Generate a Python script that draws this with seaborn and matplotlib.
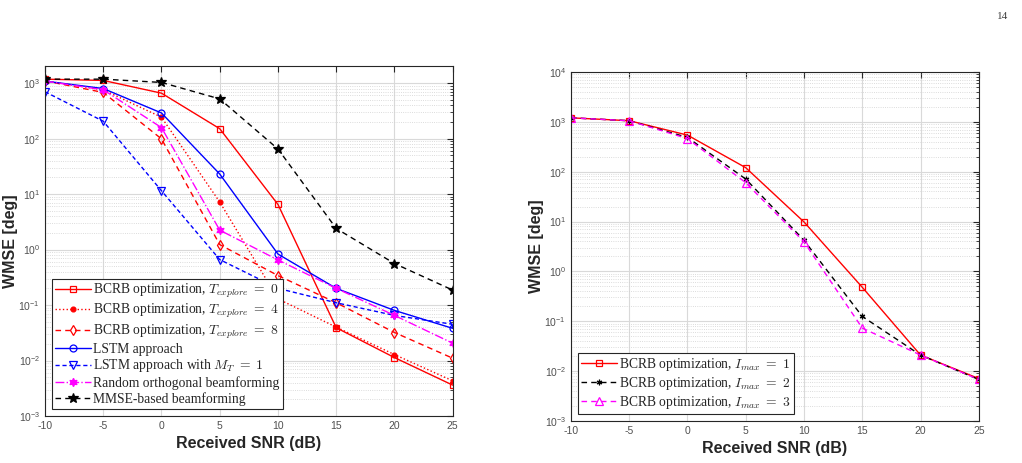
import seaborn as sns
import matplotlib.pyplot as plt
import matplotlib.ticker as mticker
import numpy as np
import pandas as pd

snr = [-10, -5, 0, 5, 10, 15, 20, 25]

# left panel
bcrb_t0 = [1180, 1120, 660, 151, 6.5, 0.039, 0.0113, 0.0036]
bcrb_t4 = [1100, 760, 243, 7.2, 0.129, 0.040, 0.0128, 0.0043]
bcrb_t8 = [1100, 680, 99, 1.23, 0.34, 0.11, 0.032, 0.011]
lstm = [1090, 800, 290, 23, 0.83, 0.20, 0.080, 0.038]
lstm_mt1 = [700, 206, 11.5, 0.66, 0.20, 0.11, 0.065, 0.045]
rand_orth = [1090, 760, 158, 2.24, 0.65, 0.20, 0.065, 0.0205]
mmse = [1180, 1180, 1030, 520, 65, 2.4, 0.56, 0.186]

# right panel
imax1 = [1200, 1050, 540, 120, 9.8, 0.48, 0.021, 0.0071]
imax2 = [1200, 1050, 485, 71, 4.2, 0.125, 0.021, 0.0068]
imax3 = [1200, 1050, 460, 60, 3.9, 0.073, 0.021, 0.0068]

sns.set_style('white')
plt.rcParams['font.family'] = ['Liberation Sans', 'DejaVu Sans']
plt.rcParams['mathtext.fontset'] = 'cm'
plt.rcParams['axes.unicode_minus'] = False

fig = plt.figure(figsize=(10.22, 4.63), dpi=100)
ax1 = fig.add_axes([0.044, 0.1015, 0.399, 0.756])
ax2 = fig.add_axes([0.5587, 0.0907, 0.399, 0.754])

star6 = (6, 1, 0)
asterisk = (6, 2, 0)

left_series = [
    (bcrb_t0, r'BCRB optimization, $T_{explore}\;=\;0$', 'red', '-', 's', 'none', 4.5),
    (bcrb_t4, r'BCRB optimization, $T_{explore}\;=\;4$', 'red', ':', 'o', 'red', 3.5),
    (bcrb_t8, r'BCRB optimization, $T_{explore}\;=\;8$', 'red', (0, (4, 3)), 'd', 'none', 5),
    (lstm, 'LSTM approach', 'blue', '-', 'o', 'none', 5),
    (lstm_mt1, r'LSTM approach with $M_T\;=\;1$', 'blue', (0, (3, 2)), 'v', 'none', 5.5),
    (rand_orth, 'Random orthogonal beamforming', 'magenta', '-.', star6, 'magenta', 6),
    (mmse, 'MMSE-based beamforming', 'black', (0, (4, 3)), '*', 'black', 7),
]
right_series = [
    (imax1, r'BCRB optimization, $I_{max}\;=\;1$', 'red', '-', 's', 'none', 5),
    (imax2, r'BCRB optimization, $I_{max}\;=\;2$', 'black', (0, (4, 3)), asterisk, 'black', 4),
    (imax3, r'BCRB optimization, $I_{max}\;=\;3$', 'magenta', (0, (4, 3)), '^', 'none', 6),
]

for ax, series in [(ax1, left_series), (ax2, right_series)]:
    for vals, label, col, ls, mk, mfc, ms in series:
        df = pd.DataFrame({'snr': snr, 'wmse': vals})
        sns.lineplot(x='snr', y='wmse', data=df, ax=ax, label=label, color=col,
                     linestyle=ls, marker=mk, markerfacecolor=mfc,
                     markeredgecolor=col, markeredgewidth=0.9, markersize=ms,
                     linewidth=1.0)

logfmt = mticker.FuncFormatter(lambda v, p: r'$\mathregular{10^{%d}}$' % round(np.log10(v)))
for ax, ytop, top_exp in [(ax1, 2040, 3), (ax2, 1e4, 4)]:
    ax.set_yscale('log')
    ax.set_ylim(1e-3, ytop)
    ax.set_xlim(-10, 25)
    ax.set_xticks([-10, -5, 0, 5, 10, 15, 20, 25])
    majors = [10.0 ** e for e in range(-3, top_exp + 1)]
    minors = [m * 10.0 ** e for e in range(-3, top_exp) for m in range(2, 10)]
    minors += [m * 10.0 ** top_exp for m in range(2, 10) if m * 10.0 ** top_exp <= ytop]
    ax.yaxis.set_major_locator(mticker.FixedLocator(majors))
    ax.yaxis.set_minor_locator(mticker.FixedLocator(minors))
    ax.yaxis.set_major_formatter(logfmt)
    ax.yaxis.set_minor_formatter(mticker.NullFormatter())
    ax.grid(True, which='major', color='#d9d9d9', linewidth=0.8)
    ax.grid(True, which='minor', axis='y', color='#d0d0d0', linestyle=':', linewidth=0.6)
    ax.set_axisbelow(True)
    ax.tick_params(which='both', direction='in', top=True, right=True,
                   labelsize=7.5, colors='#262626', labelcolor='#505050')
    ax.tick_params(which='major', length=4)
    ax.tick_params(which='minor', length=2)
    for sp in ax.spines.values():
        sp.set_color('#262626')
        sp.set_linewidth(0.8)
    ax.set_xlabel('Received SNR (dB)', fontsize=11.5, fontweight='bold', color='#262626', labelpad=4)
    ax.set_ylabel('WMSE [deg]', fontsize=11.5, fontweight='bold', color='#262626', labelpad=0)

leg_kw = dict(loc='lower left', fancybox=False, framealpha=1, edgecolor='#262626',
              prop={'family': 'Liberation Serif', 'size': 9.8}, labelspacing=0.14,
              handlelength=2.6, handletextpad=0.2, borderpad=0.25, borderaxespad=0.5)
l1 = ax1.legend(**leg_kw)
l2 = ax2.legend(**leg_kw)
for l in (l1, l2):
    l.get_frame().set_linewidth(0.8)

fig.text(0.987, 0.965, '14', ha='right', va='center', fontsize=8,
         family='Liberation Serif', color='#404040')

fig.savefig('out.png', dpi=100)
